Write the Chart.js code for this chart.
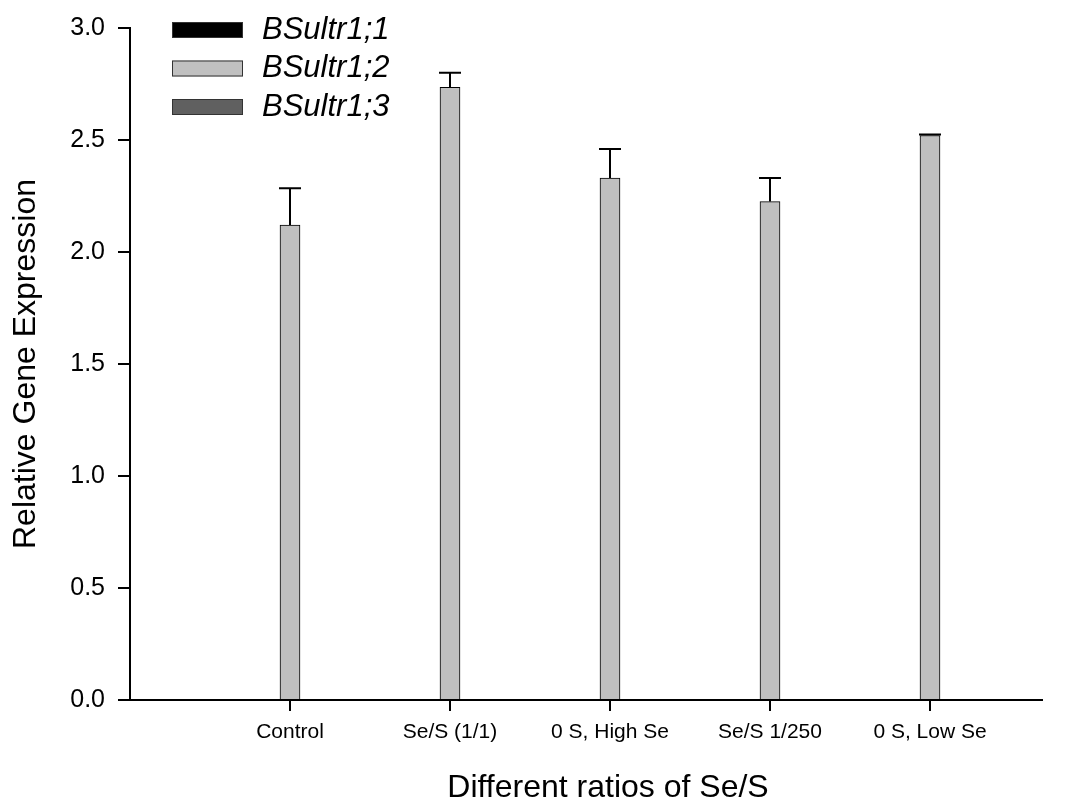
<!DOCTYPE html>
<html>
<head>
<meta charset="utf-8">
<script src="https://cdn.jsdelivr.net/npm/chart.js@4"></script>
<style>
  body { margin: 0; background: #fff; }
  canvas { display: block; }
</style>
</head>
<body>
<canvas id="geneChart" width="1082" height="804"></canvas>
<script>
// categories on the x axis (placed at 1..5 on a linear scale)
const categories = ['Control', 'Se/S (1/1)', '0 S, High Se', 'Se/S 1/250', '0 S, Low Se'];
const positions = [1, 2, 3, 4, 5];
const seriesNames = ['BSultr1;1', 'BSultr1;2', 'BSultr1;3'];
const seriesColors = ['#000000', '#c0c0c0', '#606060'];

// only BSultr1;2 has visible bars in the figure
const sultr11 = [null, null, null, null, null];
const sultr12 = [2.12, 2.735, 2.33, 2.225, 2.52];
const sultr13 = [null, null, null, null, null];
const sultr12Err = [0.165, 0.065, 0.13, 0.105, 0.005];

const yTicks = [0, 0.5, 1.0, 1.5, 2.0, 2.5, 3.0];
const xTitle = 'Different ratios of Se/S';

const fontFam = '"Liberation Sans", Arial, sans-serif';

function toPoints(vals) {
    return positions.map((x, i) => ({ x: x, y: vals[i] }));
}

// error bars (upper only) for the gray series
const errorBars = {
    id: 'errorBars',
    afterDatasetsDraw(chart) {
        const ctx = chart.ctx;
        const xs = chart.scales.x, ys = chart.scales.y;
        ctx.save();
        ctx.strokeStyle = '#000';
        ctx.lineWidth = 2;
        sultr12.forEach((v, i) => {
            const px = xs.getPixelForValue(positions[i]);
            const top = ys.getPixelForValue(v + sultr12Err[i]);
            const base = ys.getPixelForValue(v);
            ctx.beginPath();
            ctx.moveTo(px, base);
            ctx.lineTo(px, top);
            ctx.moveTo(px - 11, top);
            ctx.lineTo(px + 11, top);
            ctx.stroke();
        });
        ctx.restore();
    }
};

// x tick marks, x title and the legend inside the plot
const decorations = {
    id: 'decorations',
    afterDraw(chart) {
        const ctx = chart.ctx;
        const xs = chart.scales.x;
        const axisY = chart.chartArea.bottom;
        ctx.save();
        ctx.fillStyle = '#000';
        positions.forEach(p => {
            const px = Math.round(xs.getPixelForValue(p));
            ctx.fillRect(px - 1, axisY, 2, 11);
        });

        ctx.font = '32px ' + fontFam;
        ctx.textAlign = 'center';
        ctx.textBaseline = 'alphabetic';
        ctx.fillText(xTitle, 608, 797);

        ctx.font = 'italic 31px ' + fontFam;
        ctx.textAlign = 'left';
        ctx.textBaseline = 'middle';
        seriesNames.forEach((name, i) => {
            const cy = 30 + i * 38.5;
            ctx.fillStyle = seriesColors[i];
            ctx.fillRect(172, cy - 8, 71, 16);
            ctx.strokeStyle = '#333';
            ctx.lineWidth = 1;
            ctx.strokeRect(172.5, cy - 7.5, 70, 15);
            ctx.fillStyle = '#000';
            ctx.fillText(name, 262, cy);
        });
        ctx.restore();
    }
};

const chartData = {
    datasets: [
        { label: seriesNames[0], data: toPoints(sultr11), backgroundColor: seriesColors[0], borderColor: '#000', borderWidth: 1 },
        { label: seriesNames[1], data: toPoints(sultr12), backgroundColor: seriesColors[1], borderColor: '#000', borderWidth: 1 },
        { label: seriesNames[2], data: toPoints(sultr13), backgroundColor: seriesColors[2], borderColor: '#000', borderWidth: 1 }
    ]
};

new Chart(document.getElementById('geneChart').getContext('2d'), {
    type: 'bar',
    data: chartData,
    options: {
        responsive: false,
        animation: false,
        barThickness: 20,
        layout: { padding: { top: 28, right: 40, left: 0, bottom: 0 } },
        plugins: { legend: { display: false }, tooltip: { enabled: false } },
        scales: {
            x: {
                type: 'linear',
                min: 0,
                max: 5.7,
                offset: false,
                afterBuildTicks: s => { s.ticks = positions.map(v => ({ value: v })); },
                afterFit: s => { s.height = 104; },
                grid: { display: false },
                border: { color: '#000', width: 2 },
                ticks: {
                    color: '#000',
                    font: { family: fontFam, size: 21 },
                    padding: 12,
                    maxRotation: 0,
                    autoSkip: false,
                    callback: v => categories[positions.indexOf(v)] || ''
                },
                title: { display: false }
            },
            y: {
                min: 0,
                max: 3.0,
                afterBuildTicks: s => { s.ticks = yTicks.map(v => ({ value: v })); },
                afterFit: s => { s.width = 130; },
                grid: { drawOnChartArea: false, drawTicks: true, tickLength: 12, color: '#000', lineWidth: 2 },
                border: { color: '#000', width: 2 },
                ticks: {
                    color: '#000',
                    font: { family: fontFam, size: 25 },
                    padding: 13,
                    callback: v => v.toFixed(1)
                },
                title: {
                    display: true,
                    text: 'Relative Gene Expression',
                    color: '#000',
                    font: { family: fontFam, size: 32 },
                    padding: { top: 7, bottom: 0 }
                }
            }
        }
    },
    plugins: [errorBars, decorations]
});
</script>
</body>
</html>
